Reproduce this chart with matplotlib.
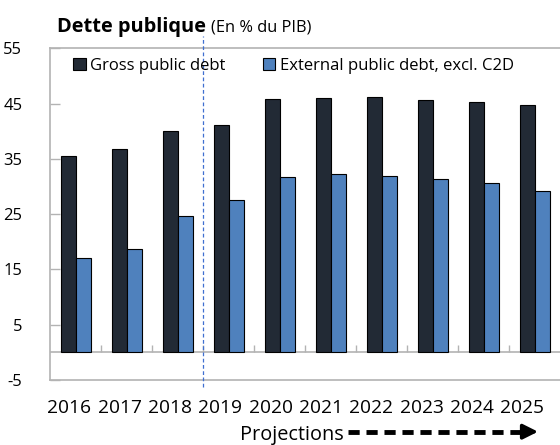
import matplotlib
matplotlib.use("Agg")
import matplotlib.pyplot as plt
from matplotlib.patches import Patch
from matplotlib.lines import Line2D
import numpy as np

plt.rcParams['font.family'] = ['Open Sans', 'DejaVu Sans']

years = ['2016', '2017', '2018', '2019', '2020', '2021', '2022', '2023', '2024', '2025']
gross_debt = [35.6, 36.8, 40.0, 41.1, 45.8, 46.1, 46.2, 45.7, 45.2, 44.7]
external_debt = [17.1, 18.7, 24.6, 27.5, 31.8, 32.2, 31.9, 31.4, 30.6, 29.2]
series_names = ['Gross public debt', 'External public debt, excl. C2D']
yticks = [-5, 5, 15, 25, 35, 45, 55]

dark = '#222A35'
blue = '#4F81BD'
gray = '#B3B3B3'

fig = plt.figure(figsize=(5.6, 4.45), dpi=100)
ax = fig.add_axes([50.2/560, 65/445, 510/560, 331.7/445])

x = np.arange(len(years))
w = 0.294
ax.bar(x - w/2, gross_debt, w, color=dark, edgecolor='black', linewidth=0.8, zorder=3)
ax.bar(x + w/2, external_debt, w, color=blue, edgecolor='black', linewidth=0.8, zorder=3)

ax.set_xlim(-0.5, 9.5)
ax.set_ylim(-5, 55)
ax.set_yticks(yticks)
ax.set_yticklabels([str(t) for t in yticks], fontsize=12)
ax.tick_params(axis='y', direction='in', length=7, width=1, color=gray, pad=20)

pos = [-0.122 + 0.986 * i for i in range(len(years))]
ax.set_xticks(pos)
ax.set_xticklabels(years, fontsize=13.8)
ax.tick_params(axis='x', length=0, pad=14)

for s in ['left', 'top', 'bottom']:
    ax.spines[s].set_color(gray)
    ax.spines[s].set_linewidth(1.2)
ax.spines['right'].set_visible(False)

ax.axhline(0, color=gray, lw=1.2, zorder=2)
ax.vlines(np.arange(0.5, 9.5, 1.0), 0, 1.27, color=gray, lw=1.0, zorder=2)

# projection separator
ax.add_artist(Line2D([2.5, 2.5], [-6.2, 57.2], color='#3F6FD0', lw=0.9,
                     linestyle=(0, (3, 2)), clip_on=False, zorder=4))

handles = [Patch(facecolor=dark, edgecolor='black', lw=0.8),
           Patch(facecolor=blue, edgecolor='black', lw=0.8)]
leg = ax.legend(handles, series_names, loc='upper left', bbox_to_anchor=(73/560, 1 - 58/445),
                bbox_transform=fig.transFigure, ncol=2, frameon=False, fontsize=12,
                handlelength=0.75, handleheight=0.75, handletextpad=0.3, columnspacing=2.2,
                borderaxespad=0, borderpad=0)

# title
t1 = fig.text(57/560, 1 - 31.7/445, 'Dette publique', fontsize=14.4, fontweight='bold',
              va='baseline', ha='left')
fig.canvas.draw()
r = fig.canvas.get_renderer()
bb = t1.get_window_extent(r)
fig.text((bb.x1 + 5)/560, 1 - 31.7/445, '(En % du PIB)', fontsize=11.8, va='baseline', ha='left')

# projections arrow
fig.text(292/560, 1 - 440/445, 'Projections', fontsize=14.3, va='baseline', ha='center')
fig.add_artist(Line2D([348/560, 524/560], [1 - 431.7/445, 1 - 431.7/445], color='black',
                      lw=3.5, linestyle=(0, (2.3, 1.4)), solid_capstyle='butt',
                      dash_capstyle='butt'))
ax.annotate('', xy=(538, 445 - 431.7), xytext=(522, 445 - 431.7), xycoords='figure pixels',
            textcoords='figure pixels',
            arrowprops=dict(arrowstyle='-|>,head_length=0.9,head_width=0.45', color='black',
                            lw=2.5, shrinkA=0, shrinkB=0))

fig.savefig('out.png', dpi=100)
